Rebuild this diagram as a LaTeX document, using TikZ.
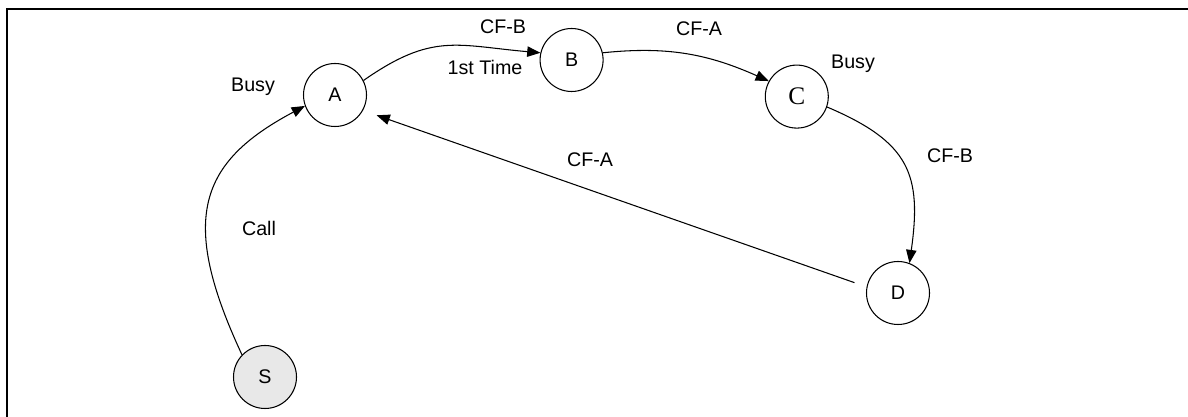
\documentclass[tikz,border=0pt]{standalone}
\usepackage{fontspec}
\setmainfont{Liberation Sans}
\newfontfamily\timesfont{Liberation Serif}
\usetikzlibrary{arrows.meta,positioning,calc}

\begin{document}
\begin{tikzpicture}[x=1cm,y=1cm,
  state/.style={circle,draw,line width=0.75pt,minimum size=1.575cm,inner sep=0pt,font=\fontsize{14}{16}\selectfont},
  lbl/.style={font=\fontsize{14}{16}\selectfont},
  arr/.style={line width=0.75pt,-{Triangle[length=3.3mm,width=2.6mm]}}]
  \useasboundingbox (0,0) rectangle (29.7,10.425);
  \draw[line width=1.9pt] (0.175,0) -- (0.175,10.2) -- (29.7,10.2);
  \node[state] (A) at (8.375,8.05) {A};
  \node[state] (B) at (14.29,8.925) {B};
  \node[state,font=\timesfont\fontsize{18}{20}\selectfont] (C) at (19.92,8.01) {C};
  \node[state] (D) at (22.45,3.10) {D};
  \node[state,fill=black!9] (S) at (6.625,1.0) {S};
  \draw[arr] (S.136) .. controls +(115:3.75) and +(208:3) .. (A.200);
  \draw[arr] (A.27) to[out=35,in=175,looseness=1.2] (B.167);
  \draw[arr] (B.13) to[out=6,in=156] (C.151);
  \draw[arr] (C.341) to[out=-23,in=82,looseness=1.3] (D.69);
  \draw[arr,shorten <=0.32cm,shorten >=0.36cm] (D.169) -- (A.-29); % gap at both ends
  \node[lbl] (busyA) at (6.325,8.25) {Busy};
  \node[lbl] (cfbAB) at (12.575,9.75) {CF-B};
  \node[lbl] (first) at (12.125,8.75) {1st Time};
  \node[lbl] (cfaBC) at (17.475,9.7) {CF-A};
  \node[lbl] (busyC) at (21.325,8.825) {Busy};
  \node[lbl] (cfbCD) at (23.75,6.525) {CF-B};
  \node[lbl] (cfaDA) at (14.75,6.425) {CF-A};
  \node[lbl] (call) at (6.475,4.725) {Call};
\end{tikzpicture}
\end{document}
